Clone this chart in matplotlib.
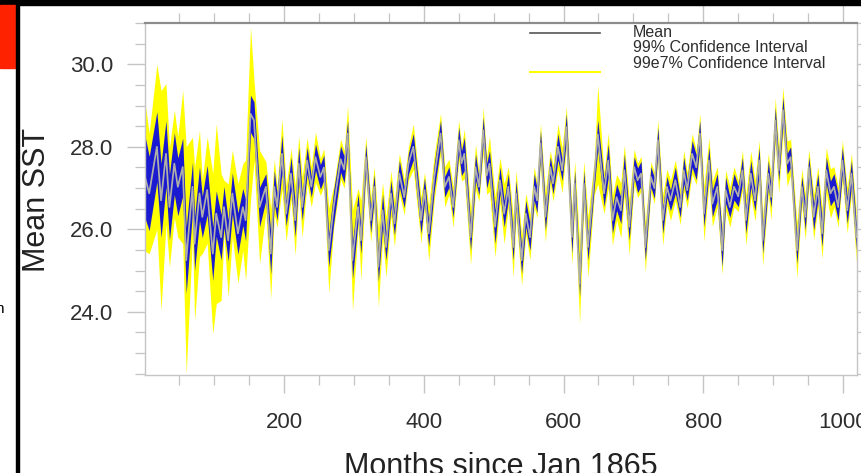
"""Mean SST with 99% / 99.7% confidence bands, months since Jan 1865.

Writes ``out.png``.
"""

import matplotlib
matplotlib.use("Agg")
import matplotlib.pyplot as plt
from matplotlib.lines import Line2D
from matplotlib.patches import Rectangle
from matplotlib.ticker import FormatStrFormatter, MultipleLocator

# turning points of the monthly series (month index, mean SST, band half-widths)
months = [1, 7, 18, 24, 31, 36, 43, 48, 55, 60,
          69, 72, 79, 83, 90, 98, 103, 110, 114, 120,
          126, 134, 141, 145, 152, 157, 165, 174, 181, 186,
          190, 197, 203, 210, 216, 221, 226, 233, 239, 245,
          252, 257, 264, 271, 281, 286, 291, 298, 306, 310,
          317, 324, 329, 335, 341, 346, 353, 358, 365, 372,
          378, 385, 396, 401, 407, 415, 424, 430, 436, 442,
          450, 454, 458, 467, 474, 479, 485, 490, 494, 502,
          509, 515, 521, 528, 532, 540, 546, 552, 558, 562,
          567, 574, 581, 585, 592, 598, 604, 612, 616, 623,
          629, 635, 644, 649, 658, 664, 670, 676, 682, 687,
          694, 701, 706, 711, 717, 725, 730, 735, 742, 748,
          753, 760, 767, 772, 777, 784, 790, 795, 801, 808,
          813, 820, 827, 832, 838, 844, 850, 856, 861, 868,
          874, 880, 885, 893, 897, 903, 908, 914, 920, 925,
          934, 941, 946, 951, 958, 964, 970, 976, 982, 987,
          993, 999, 1006, 1012, 1019]
sst_mean = [27.27, 26.87, 28.00, 26.70, 27.83, 26.54, 27.59, 27.03, 27.51, 25.25,
            27.03, 25.65, 26.87, 26.30, 26.95, 25.41, 26.38, 25.81, 26.54, 25.73,
            26.87, 25.90, 26.54, 26.22, 28.80, 28.64, 26.54, 27.03, 25.41, 27.03,
            26.54, 27.83, 26.38, 27.35, 26.22, 27.59, 26.54, 27.67, 27.03, 27.75,
            27.27, 27.50, 25.49, 26.54, 27.70, 27.45, 28.32, 25.25, 26.54, 25.73,
            27.75, 26.22, 27.03, 25.09, 26.46, 25.57, 26.87, 26.14, 27.35, 26.78,
            27.59, 28.00, 26.22, 26.95, 25.90, 27.27, 28.32, 27.03, 27.27, 26.54,
            28.16, 27.60, 27.83, 25.81, 27.51, 27.03, 28.40, 27.30, 27.59, 26.06,
            27.19, 26.38, 27.03, 25.57, 26.87, 25.25, 26.38, 25.81, 27.03, 26.70,
            28.08, 26.30, 27.51, 27.11, 28.00, 27.43, 28.48, 25.81, 27.11, 24.68,
            27.11, 25.57, 27.27, 28.30, 26.87, 27.67, 26.22, 26.78, 26.46, 27.43,
            26.06, 27.51, 27.19, 27.35, 25.57, 27.27, 27.00, 28.16, 26.22, 27.03,
            26.70, 27.19, 26.54, 27.43, 26.95, 27.83, 27.50, 28.32, 26.38, 27.67,
            26.62, 27.03, 25.49, 26.95, 26.54, 27.03, 26.80, 27.43, 26.22, 27.35,
            26.70, 27.67, 25.73, 27.35, 26.78, 28.64, 27.43, 28.89, 27.59, 27.75,
            25.49, 27.03, 26.30, 27.51, 26.30, 27.03, 25.90, 27.43, 26.87, 27.03,
            26.54, 27.67, 26.46, 27.35, 25.81]
ci99_half = [1.00, 0.90, 0.85, 0.90, 0.80, 0.80, 0.75, 0.70, 0.70, 0.80,
             0.60, 0.65, 0.65, 0.50, 0.60, 0.65, 0.55, 0.55, 0.50, 0.50,
             0.50, 0.50, 0.45, 0.50, 0.45, 0.45, 0.48, 0.32, 0.50, 0.40,
             0.32, 0.45, 0.30, 0.40, 0.40, 0.40, 0.32, 0.32, 0.25, 0.32,
             0.30, 0.30, 0.40, 0.40, 0.32, 0.32, 0.32, 0.45, 0.32, 0.32,
             0.32, 0.30, 0.30, 0.35, 0.40, 0.32, 0.32, 0.28, 0.32, 0.25,
             0.25, 0.32, 0.32, 0.30, 0.32, 0.32, 0.32, 0.25, 0.25, 0.25,
             0.32, 0.30, 0.40, 0.32, 0.32, 0.20, 0.32, 0.30, 0.32, 0.40,
             0.32, 0.32, 0.32, 0.32, 0.32, 0.32, 0.32, 0.32, 0.32, 0.30,
             0.32, 0.32, 0.25, 0.25, 0.32, 0.25, 0.32, 0.40, 0.32, 0.32,
             0.32, 0.32, 0.25, 0.35, 0.32, 0.40, 0.32, 0.32, 0.32, 0.40,
             0.32, 0.25, 0.30, 0.30, 0.32, 0.25, 0.25, 0.32, 0.32, 0.25,
             0.25, 0.32, 0.25, 0.32, 0.25, 0.32, 0.30, 0.32, 0.32, 0.32,
             0.32, 0.32, 0.40, 0.32, 0.25, 0.32, 0.25, 0.32, 0.32, 0.32,
             0.25, 0.32, 0.32, 0.32, 0.25, 0.32, 0.25, 0.32, 0.25, 0.25,
             0.32, 0.25, 0.32, 0.25, 0.32, 0.32, 0.32, 0.32, 0.30, 0.32,
             0.32, 0.32, 0.32, 0.32, 0.32]
ci997_half = [1.80, 1.46, 2.00, 2.66, 1.70, 1.45, 1.30, 1.22, 1.86, 2.75,
              1.20, 1.86, 1.53, 0.89, 1.29, 1.94, 2.18, 1.53, 0.65, 1.37,
              1.05, 1.21, 1.05, 1.46, 2.10, 0.97, 1.37, 0.61, 1.09, 0.67,
              0.49, 0.85, 0.67, 0.61, 0.85, 0.67, 0.73, 0.55, 0.49, 0.61,
              0.45, 0.45, 1.03, 0.52, 0.49, 0.45, 0.67, 1.22, 0.45, 0.97,
              0.49, 0.53, 0.49, 0.97, 0.67, 0.73, 0.55, 0.55, 0.49, 0.43,
              0.40, 0.55, 0.55, 0.43, 0.67, 0.55, 0.49, 0.49, 0.43, 0.49,
              0.49, 0.43, 0.60, 0.67, 0.55, 0.35, 0.55, 0.45, 0.67, 0.73,
              0.55, 0.73, 0.49, 0.73, 0.55, 0.61, 0.49, 0.55, 0.49, 0.42,
              0.49, 0.61, 0.40, 0.43, 0.55, 0.55, 0.49, 0.67, 0.55, 0.97,
              0.55, 0.73, 0.43, 1.20, 0.49, 0.67, 0.61, 0.55, 0.67, 0.61,
              0.67, 0.43, 0.42, 0.42, 0.61, 0.37, 0.38, 0.49, 0.61, 0.43,
              0.49, 0.49, 0.43, 0.49, 0.43, 0.49, 0.42, 0.49, 0.67, 0.55,
              0.55, 0.49, 0.58, 0.49, 0.49, 0.49, 0.37, 0.49, 0.61, 0.55,
              0.49, 0.49, 0.61, 0.49, 0.55, 0.55, 0.55, 0.55, 0.55, 0.43,
              0.67, 0.43, 0.55, 0.43, 0.55, 0.49, 0.61, 0.55, 0.60, 0.49,
              0.49, 0.49, 0.55, 0.49, 0.61]

legend_labels = ["Mean", "99% Confidence Interval", "99e7% Confidence Interval"]

FONT = "Liberation Sans"
GREY_AX = "#c4c4c4"


def main() -> int:
    plt.rcParams["font.family"] = [FONT, "DejaVu Sans"]
    fig = plt.figure(figsize=(8.62, 4.73), dpi=100)
    ax = fig.add_axes([0.1682, 0.2072, 0.826, 0.7442])

    lo997 = [m - h for m, h in zip(sst_mean, ci997_half)]
    hi997 = [m + h for m, h in zip(sst_mean, ci997_half)]
    lo99 = [m - h for m, h in zip(sst_mean, ci99_half)]
    hi99 = [m + h for m, h in zip(sst_mean, ci99_half)]
    ax.fill_between(months, lo997, hi997, color="#ffff00", lw=0)
    ax.fill_between(months, lo99, hi99, color="#1a1ad0", lw=0)
    ax.plot(months, sst_mean, color="#b0b0a8", lw=1.25)

    ax.set_xlim(1, 1020)
    ax.set_ylim(22.47, 31.0)
    ax.xaxis.set_major_locator(MultipleLocator(200))
    ax.xaxis.set_minor_locator(MultipleLocator(50))
    ax.yaxis.set_major_locator(MultipleLocator(2))
    ax.yaxis.set_minor_locator(MultipleLocator(0.5))
    ax.yaxis.set_major_formatter(FormatStrFormatter("%.1f"))
    ax.tick_params(which="both", direction="out", top=True, right=True,
                   color=GREY_AX, labelcolor="#2e2e2e", labelsize=16)
    ax.tick_params(which="major", length=13, width=1.0)
    ax.tick_params(which="minor", length=7, width=0.9)
    ax.tick_params(axis="x", which="major", pad=14)
    ax.tick_params(axis="y", which="major", pad=10)
    for side, sp in ax.spines.items():
        sp.set_color("#8c8c8c" if side == "top" else GREY_AX)
        sp.set_linewidth(1.6 if side == "top" else 1.0)

    # legend, NCL style (labels and line samples placed by hand)
    ax.add_line(Line2D([0.541, 0.639], [0.972, 0.972], transform=ax.transAxes,
                       color="#555555", lw=1.2))
    ax.add_line(Line2D([0.541, 0.639], [0.861, 0.861], transform=ax.transAxes,
                       color="#ffff00", lw=1.5))
    for lab, yy in zip(legend_labels, [0.972, 0.929, 0.886]):
        ax.text(0.685, yy, lab, transform=ax.transAxes, fontsize=11.5,
                color="#2e2e2e", ha="left", va="center")

    fig.text(45 / 862, 1 - 200 / 473, "Mean SST", rotation=90,
             rotation_mode="anchor", ha="center", va="baseline",
             fontsize=22, color="#222222")
    fig.text(501 / 862, -1.5 / 473, "Months since Jan 1865", ha="center",
             va="baseline", fontsize=22, color="#222222")

    # screenshot frame around the figure
    fig.patches.append(Rectangle((0, 1 - 5 / 473), 1, 5 / 473,
                                 transform=fig.transFigure, color="black"))
    fig.patches.append(Rectangle((0, 1 - 68 / 473), 16 / 862, 63 / 473,
                                 transform=fig.transFigure, color="#ff2200"))
    fig.patches.append(Rectangle((16 / 862, 0), 3 / 862, 1,
                                 transform=fig.transFigure, color="black"))
    fig.text(4 / 862, 1 - 313 / 473, "n", ha="right", va="baseline",
             fontsize=11, color="black")

    fig.savefig("out.png", dpi=100)
    return 0


if __name__ == "__main__":
    raise SystemExit(main())
